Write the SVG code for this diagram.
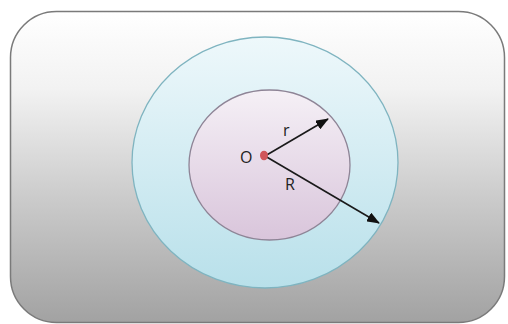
<svg xmlns="http://www.w3.org/2000/svg" width="508" height="324" viewBox="0 0 508 324">
<defs>
<linearGradient id="bg" x1="0" y1="0" x2="0" y2="1">
<stop offset="0" stop-color="#ffffff"/>
<stop offset="0.25" stop-color="#f2f2f2"/>
<stop offset="0.6" stop-color="#cbcbcb"/>
<stop offset="1" stop-color="#a2a2a2"/>
</linearGradient>
<linearGradient id="outer" x1="0" y1="0" x2="0" y2="1">
<stop offset="0" stop-color="#eef8fb"/>
<stop offset="1" stop-color="#b8e0ea"/>
</linearGradient>
<linearGradient id="inner" x1="0" y1="0" x2="0" y2="1">
<stop offset="0" stop-color="#f5f0f6"/>
<stop offset="1" stop-color="#d9c5db"/>
</linearGradient>
<marker id="ah" markerWidth="13" markerHeight="10" refX="12" refY="5" orient="auto" markerUnits="userSpaceOnUse">
<path d="M0,0 L13,5 L0,10 Z" fill="#111"/>
</marker>
<style>
.lbl{font-family:"Open Sans","Liberation Sans",sans-serif;font-size:16px;fill:#222}
.conn{stroke:#1a1a1a;stroke-width:1.6;fill:none;marker-end:url(#ah)}
</style>
</defs>
<g id="frame">
<rect x="10.5" y="11.5" width="494" height="311" rx="46" ry="46" fill="url(#bg)" stroke="#7a7a7a" stroke-width="1.5"/>
</g>
<g id="outer-circle">
<ellipse cx="265" cy="162.5" rx="133" ry="125.5" fill="url(#outer)" stroke="#7fb4c0" stroke-width="1.3"/>
</g>
<g id="inner-circle">
<ellipse cx="269.5" cy="165" rx="80.5" ry="75" fill="url(#inner)" stroke="#8e8496" stroke-width="1.3"/>
</g>
<g id="connectors">
<line class="conn" x1="265" y1="156" x2="328" y2="119"/>
<line class="conn" x1="265" y1="156" x2="379" y2="223"/>
</g>
<g id="center">
<ellipse cx="264" cy="155.5" rx="4" ry="4.8" fill="#d0555a"/>
<text class="lbl" x="240" y="163">O</text>
</g>
<g id="labels">
<text class="lbl" x="283" y="136">r</text>
<text class="lbl" x="285" y="190">R</text>
</g>
</svg>
